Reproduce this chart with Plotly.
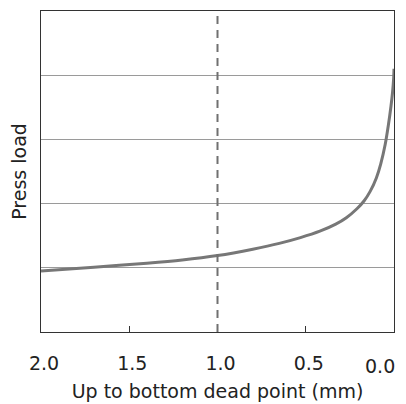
import plotly.graph_objects as go

# Data
stroke_mm = [2.0, 1.7, 1.4, 1.2, 1.0, 0.8, 0.65, 0.53, 0.42, 0.33, 0.27, 0.21, 0.17,
             0.135, 0.1, 0.075, 0.05, 0.032, 0.017, 0.008, 0.002, 0.0]
press_load = [0.95, 1.01, 1.07, 1.12, 1.19, 1.29, 1.38, 1.47, 1.57, 1.68, 1.78, 1.92, 2.04,
              2.19, 2.40, 2.62, 2.92, 3.22, 3.52, 3.74, 3.95, 4.1]
marker_x = 1.0
x_ticks = [2.0, 1.5, 1.0, 0.5, 0.0]
x_tick_labels = ["2.0", "1.5", "1.0", "0.5", "0.0"]
y_grid = [1, 2, 3, 4]

FONT = "DejaVu Sans"
FS = 19

# last tick label is drawn right-aligned so it stays inside the page
axis_labels = x_tick_labels[:-1] + [""]

fig = go.Figure()
fig.add_trace(go.Scatter(
    x=stroke_mm, y=press_load, mode="lines",
    line=dict(color="#777777", width=3, shape="spline", smoothing=0.8),
    showlegend=False, hoverinfo="skip"))

fig.add_shape(type="line", xref="x", yref="paper", x0=marker_x, x1=marker_x, y0=0, y1=1,
              line=dict(color="#707070", width=2, dash="8px,6px"), layer="above")

fig.add_annotation(x=x_ticks[-1], y=0, xref="x", yref="paper", text=x_tick_labels[-1],
                   showarrow=False, xanchor="right", yanchor="top", xshift=3, yshift=-21,
                   font=dict(family=FONT, size=FS, color="#222222"))

fig.update_layout(
    width=406, height=404,
    margin=dict(l=33, r=20, t=3, b=80),
    paper_bgcolor="white", plot_bgcolor="white",
    font=dict(family=FONT, size=FS, color="#222222"),
    xaxis=dict(
        range=[2.0, 0.0], tickvals=x_ticks, ticktext=axis_labels,
        ticks="inside", ticklen=6, tickcolor="#333333", tickwidth=1,
        showgrid=False, zeroline=False, automargin=False,
        showline=True, linecolor="#333333", linewidth=1, mirror=True,
        ticklabelstandoff=14, ticklabelshift=-3,
        title=dict(text="Up to bottom dead point (mm)", font=dict(size=FS), standoff=11),
    ),
    yaxis=dict(
        range=[0, 5], tickvals=y_grid, showticklabels=False, ticks="",
        showgrid=True, gridcolor="#9a9a9a", gridwidth=1, zeroline=False, automargin=False,
        showline=True, linecolor="#333333", linewidth=1, mirror=True,
        title=dict(text="Press load", font=dict(size=FS), standoff=13),
    ),
)

fig.write_html("out.html")
